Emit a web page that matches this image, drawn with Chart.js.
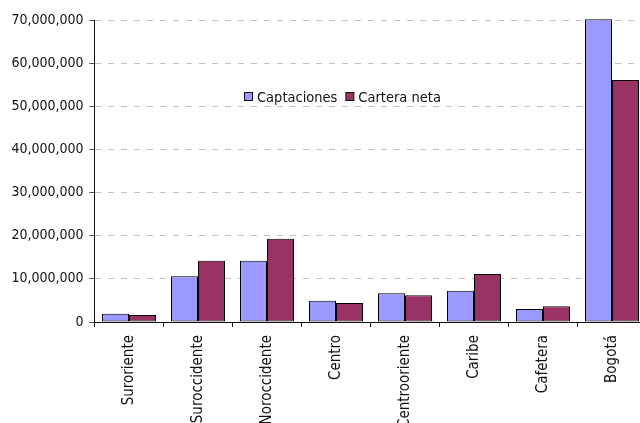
<!DOCTYPE html>
<html>
<head>
<meta charset="utf-8">
<script src="https://cdn.jsdelivr.net/npm/chart.js@4/dist/chart.umd.min.js"></script>
<style>
    html, body { margin: 0; padding: 0; background: #fff; overflow: hidden; }
    #wrap { width: 647px; height: 423px; }
</style>
</head>
<body>
<div id="wrap"><canvas id="chart"></canvas></div>
<script>
const regiones = ['Suroriente', 'Suroccidente', 'Noroccidente', 'Centro', 'Centrooriente', 'Caribe', 'Cafetera', 'Bogotá'];
const captaciones = [1920000, 10600000, 14200000, 4940000, 6650000, 7260000, 3000000, 70200000];
const carteraNeta = [1620000, 14200000, 19300000, 4400000, 6190000, 11100000, 3640000, 56100000];
const yTicks = [0, 10000000, 20000000, 30000000, 40000000, 50000000, 60000000, 70000000];

const FONT = "'DejaVu Sans Condensed', 'DejaVu Sans', sans-serif";
Chart.defaults.font.family = FONT;
Chart.defaults.font.size = 14;
Chart.defaults.color = '#111';

// legend drawn inside the plot, like the original
const innerLegend = {
    id: 'innerLegend',
    afterDraw(chart) {
        const ctx = chart.ctx;
        const area = chart.chartArea;
        let x = Math.round(area.left) + 149;
        const y = Math.round(area.top) + 77;
        ctx.save();
        ctx.font = '14.5px ' + FONT;
        ctx.textBaseline = 'middle';
        chart.data.datasets.forEach(ds => {
            ctx.fillStyle = ds.backgroundColor;
            ctx.fillRect(x + 0.5, y - 4.5, 8, 8);
            ctx.strokeStyle = '#111';
            ctx.lineWidth = 1;
            ctx.strokeRect(x + 0.5, y - 4.5, 8, 8);
            ctx.fillStyle = '#111';
            ctx.fillText(ds.label, x + 13, y + 1);
            x += 13 + ctx.measureText(ds.label).width + 8;
        });
        ctx.restore();
    }
};

new Chart(document.getElementById('chart'), {
    type: 'bar',
    data: {
        labels: regiones,
        datasets: [{
            label: 'Captaciones',
            data: captaciones,
            backgroundColor: '#9999ff',
            borderColor: '#000',
            borderWidth: 1,
            borderSkipped: false,
            barPercentage: 1,
            categoryPercentage: 54 / 69,
            clip: false
        }, {
            label: 'Cartera neta',
            data: carteraNeta,
            backgroundColor: '#993366',
            borderColor: '#000',
            borderWidth: 1,
            borderSkipped: false,
            barPercentage: 1,
            categoryPercentage: 54 / 69,
            clip: false
        }]
    },
    options: {
        responsive: true,
        maintainAspectRatio: false,
        animation: false,
        // half pixel offsets keep the bar edges on whole pixels
        layout: { padding: { top: 20, left: 0, right: 0.5, bottom: 0 } },
        scales: {
            x: {
                afterFit: scale => { scale.height = 101; },
                grid: {
                    display: true,
                    drawOnChartArea: false,
                    offset: true,
                    tickLength: 5,
                    tickColor: '#111'
                },
                border: { color: '#111', width: 1 },
                ticks: {
                    minRotation: 90,
                    maxRotation: 90,
                    autoSkip: false,
                    padding: 8,
                    font: { size: 15 },
                    color: '#111'
                }
            },
            y: {
                min: 0,
                max: 70000000,
                afterFit: scale => { scale.width = 94.5; },
                afterBuildTicks: scale => { scale.ticks = yTicks.map(v => ({ value: v })); },
                grid: {
                    color: '#c0c0c0',
                    tickColor: '#111',
                    tickLength: 5,
                    tickBorderDash: [1, 0]
                },
                border: { color: '#111', width: 1, dash: [6, 7] },
                ticks: {
                    padding: 6,
                    color: '#111',
                    callback: v => v.toLocaleString('en-US')
                }
            }
        },
        plugins: {
            legend: { display: false },
            tooltip: { enabled: false }
        }
    },
    plugins: [innerLegend]
});
</script>
</body>
</html>
